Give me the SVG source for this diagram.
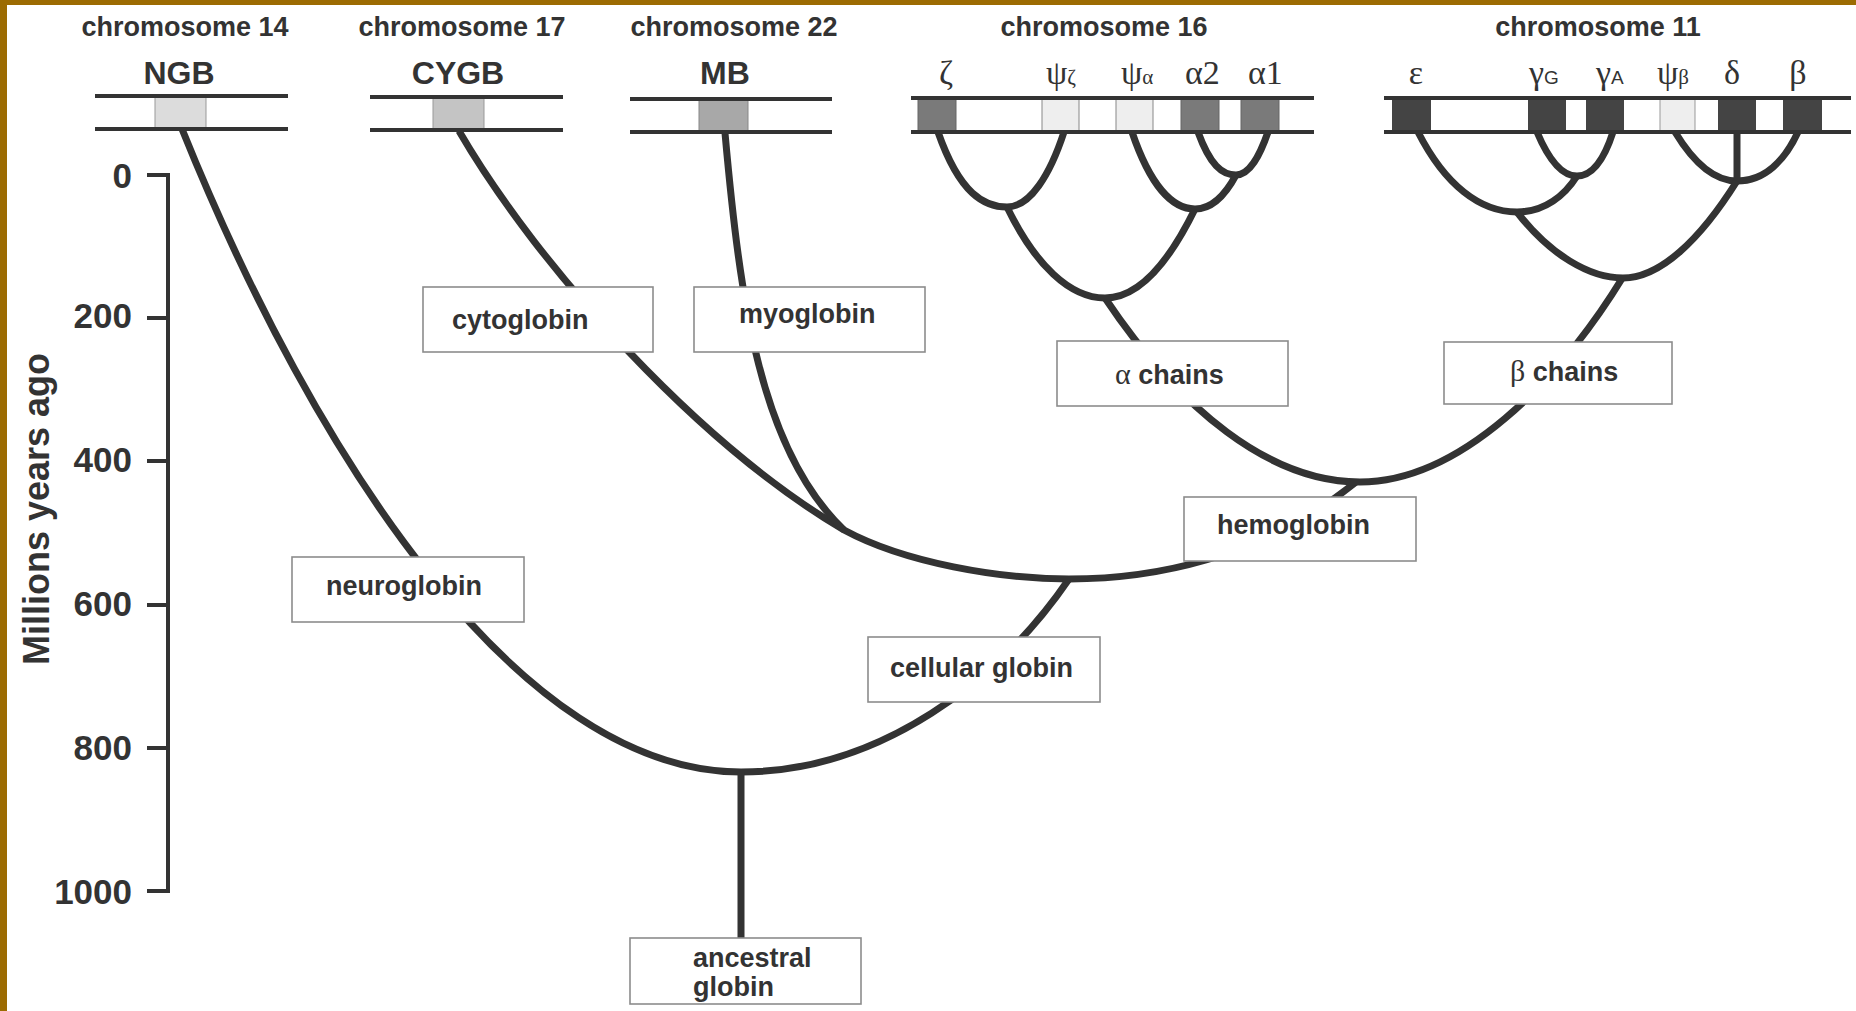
<svg xmlns="http://www.w3.org/2000/svg" width="1856" height="1011" viewBox="0 0 1856 1011">
<style>
.title{font-family:"Liberation Sans",Arial,sans-serif;font-weight:bold;font-size:27px;fill:#333;text-anchor:middle}
.gene{font-family:"Liberation Sans",Arial,sans-serif;font-weight:bold;font-size:32px;fill:#333;text-anchor:middle}
.greek{font-family:"Liberation Serif","Times New Roman",serif;font-size:34px;fill:#333}
.sub{font-family:"Liberation Serif","Times New Roman",serif;font-size:21px}
.subs{font-family:"Liberation Sans",Arial,sans-serif;font-size:19px}
.lbl{font-family:"Liberation Sans",Arial,sans-serif;font-weight:bold;font-size:27px;fill:#333}
.lblg{font-family:"Liberation Serif","Times New Roman",serif;font-weight:normal;font-size:30px}
.tick{font-family:"Liberation Sans",Arial,sans-serif;font-weight:bold;font-size:35px;fill:#333;text-anchor:end}
.axt{font-family:"Liberation Sans",Arial,sans-serif;font-weight:bold;font-size:36px;fill:#333;text-anchor:middle}
.box{fill:#fff;stroke:#8c8c8c;stroke-width:1.6}
.chr{stroke:#333;stroke-width:4}
.br{fill:none;stroke:#333;stroke-width:7}
.ax{fill:none;stroke:#333;stroke-width:4}
</style>
<rect x="0" y="0" width="1856" height="1011" fill="#fff"/>
<rect x="0" y="0" width="1856" height="5" fill="#9c6b02"/>
<rect x="0" y="0" width="7" height="1011" fill="#9c6b02"/>

<g id="axis">
<path class="ax" d="M147,175 H168 V891 H147 M147,318 H168 M147,461 H168 M147,605 H168 M147,748 H168"/>
<text class="tick" x="132" y="188">0</text>
<text class="tick" x="132" y="328">200</text>
<text class="tick" x="132" y="472">400</text>
<text class="tick" x="132" y="616">600</text>
<text class="tick" x="132" y="760">800</text>
<text class="tick" x="132" y="904">1000</text>
<text class="axt" transform="translate(49,509) rotate(-90)">Millions years ago</text>
</g>

<g id="connectors">
<path class="br" d="M182,129 C315,459 520,772 741,772 C880,772 1000,680 1069,579"/>
<path class="br" d="M741,772 V938"/>
<path class="br" d="M459,131 C540,270 700,445 844,530 C905,563 1000,579 1069,579 C1150,579 1260,560 1356,482"/>
<path class="br" d="M725,133 C740,300 760,450 844,530"/>
<path class="br" d="M1105,298 C1180,410 1270,482 1360,482 C1460,482 1560,380 1623,277"/>
<path class="br" d="M938,132 C960,195 985,207 1007,207 C1030,207 1050,175 1064,132"/>
<path class="br" d="M1198,132 C1210,165 1222,175 1236,175 C1250,175 1260,155 1268,132"/>
<path class="br" d="M1132,132 C1150,185 1172,209 1195,209 C1215,209 1228,190 1236,175"/>
<path class="br" d="M1007,207 C1035,265 1070,298 1105,298 C1140,298 1170,260 1195,209"/>
<path class="br" d="M1537,132 C1550,163 1563,176 1577,176 C1592,176 1604,160 1613,132"/>
<path class="br" d="M1418,132 C1445,185 1480,212 1517,212 C1545,212 1565,195 1577,176"/>
<path class="br" d="M1675,132 C1695,165 1715,181 1737,181 C1765,181 1785,160 1798,132"/>
<path class="br" d="M1737,132 V181"/>
<path class="br" d="M1517,212 C1550,255 1590,278 1623,278 C1660,278 1700,240 1737,181"/>
</g>

<g id="chr14">
<text class="title" x="185" y="36">chromosome 14</text>
<text class="gene" x="179" y="84">NGB</text>
<rect x="155" y="96" width="51" height="33" fill="#dcdcdc" stroke="#999" stroke-width="1"/>
<path class="chr" d="M95,96 H288 M95,129 H288"/>
</g>
<g id="chr17">
<text class="title" x="462" y="36">chromosome 17</text>
<text class="gene" x="458" y="84">CYGB</text>
<rect x="433" y="97" width="51" height="33" fill="#c4c4c4" stroke="#999" stroke-width="1"/>
<path class="chr" d="M370,97 H563 M370,130 H563"/>
</g>
<g id="chr22">
<text class="title" x="734" y="36">chromosome 22</text>
<text class="gene" x="725" y="84">MB</text>
<rect x="699" y="99" width="49" height="33" fill="#a8a8a8" stroke="#888" stroke-width="1"/>
<path class="chr" d="M630,99 H832 M630,132 H832"/>
</g>
<g id="chr16">
<text class="title" x="1104" y="36">chromosome 16</text>
<rect x="918" y="98" width="38" height="33" fill="#7a7a7a" stroke="#666" stroke-width="1"/>
<rect x="1042" y="98" width="37" height="33" fill="#eeeeee" stroke="#888" stroke-width="1"/>
<rect x="1116" y="98" width="37" height="33" fill="#eeeeee" stroke="#888" stroke-width="1"/>
<rect x="1181" y="98" width="38" height="33" fill="#7a7a7a" stroke="#666" stroke-width="1"/>
<rect x="1241" y="98" width="38" height="33" fill="#7a7a7a" stroke="#666" stroke-width="1"/>
<path class="chr" d="M911,98 H1314 M911,132 H1314"/>
<text class="greek" x="946" y="84" text-anchor="middle">ζ</text>
<text class="greek" x="1046" y="84">ψ<tspan class="sub">ζ</tspan></text>
<text class="greek" x="1121" y="84">ψ<tspan class="sub">α</tspan></text>
<text class="greek" x="1185" y="84">α2</text>
<text class="greek" x="1248" y="84">α1</text>
</g>
<g id="chr11">
<text class="title" x="1598" y="36">chromosome 11</text>
<rect x="1392" y="98" width="39" height="34" fill="#444"/>
<rect x="1528" y="98" width="38" height="34" fill="#444"/>
<rect x="1586" y="98" width="38" height="34" fill="#444"/>
<rect x="1660" y="98" width="35" height="33" fill="#eeeeee" stroke="#999" stroke-width="1"/>
<rect x="1718" y="98" width="38" height="34" fill="#444"/>
<rect x="1783" y="98" width="39" height="34" fill="#444"/>
<path class="chr" d="M1384,98 H1851 M1384,132 H1851"/>
<text class="greek" x="1416" y="84" text-anchor="middle">ε</text>
<text class="greek" x="1529" y="84">γ<tspan class="subs">G</tspan></text>
<text class="greek" x="1596" y="84">γ<tspan class="subs">A</tspan></text>
<text class="greek" x="1657" y="84">ψ<tspan class="sub">β</tspan></text>
<text class="greek" x="1732" y="84" text-anchor="middle">δ</text>
<text class="greek" x="1798" y="84" text-anchor="middle">β</text>
</g>

<g id="cytoglobin"><rect class="box" x="423" y="287" width="230" height="65"/><text class="lbl" x="452" y="329">cytoglobin</text></g>
<g id="myoglobin"><rect class="box" x="694" y="287" width="231" height="65"/><text class="lbl" x="739" y="323">myoglobin</text></g>
<g id="neuroglobin"><rect class="box" x="292" y="557" width="232" height="65"/><text class="lbl" x="326" y="595">neuroglobin</text></g>
<g id="alpha-chains"><rect class="box" x="1057" y="341" width="231" height="65"/><text class="lbl" x="1115" y="384"><tspan class="lblg">α</tspan> chains</text></g>
<g id="beta-chains"><rect class="box" x="1444" y="342" width="228" height="62"/><text class="lbl" x="1510" y="381"><tspan class="lblg">β</tspan> chains</text></g>
<g id="hemoglobin"><rect class="box" x="1184" y="497" width="232" height="64"/><text class="lbl" x="1217" y="534">hemoglobin</text></g>
<g id="cellular-globin"><rect class="box" x="868" y="637" width="232" height="65"/><text class="lbl" x="890" y="677">cellular globin</text></g>
<g id="ancestral-globin"><rect class="box" x="630" y="938" width="231" height="66"/><text class="lbl" x="693" y="967">ancestral</text><text class="lbl" x="693" y="996">globin</text></g>
</svg>
